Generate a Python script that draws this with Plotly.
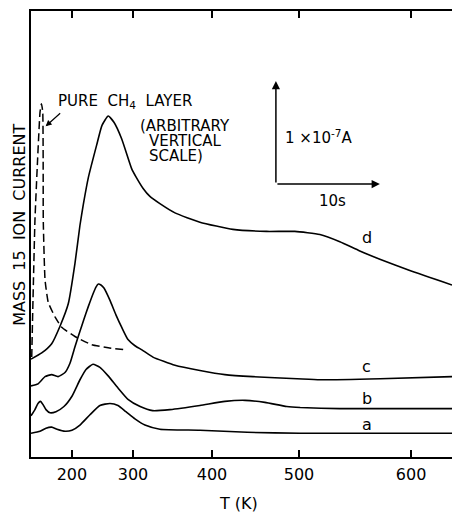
import plotly.graph_objects as go

# Time axis (s) carries the temperature labels reached during the ramp
temp_labels = ["200", "300", "400", "500", "600"]
temp_tick_times = [3.94, 9.81, 17.41, 25.78, 36.56]

# Mass 15 ion current traces, in units of 1e-7 A (stacked, arbitrary offsets)
t_a = [0, 0.87, 1.44, 1.99, 2.5, 3.27, 3.94, 4.71, 5.67, 6.63, 7.6, 8.37, 9.13, 10.0,
       10.96, 12.4, 16.25, 20.8, 25.9, 40.5]
i_a = [0.23, 0.25, 0.28, 0.29, 0.27, 0.25, 0.26, 0.31, 0.41, 0.50, 0.52, 0.50, 0.44, 0.37,
       0.31, 0.27, 0.26, 0.24, 0.23, 0.23]

t_b = [0, 0.38, 0.67, 0.91, 1.15, 1.44, 1.83, 2.4, 3.17, 3.94, 4.71, 5.29, 5.96, 6.63,
       7.4, 8.37, 9.33, 10.5, 11.7, 13.37, 16.25, 18.65, 20.6, 22.5, 24.6, 25.9, 29.7, 40.5]
i_b = [0.40, 0.46, 0.52, 0.54, 0.51, 0.46, 0.43, 0.44, 0.49, 0.59, 0.75, 0.85, 0.90, 0.87,
       0.79, 0.67, 0.56, 0.49, 0.45, 0.46, 0.50, 0.54, 0.55, 0.53, 0.49, 0.48, 0.47, 0.47]

t_c = [0, 0.67, 1.35, 1.99, 2.6, 3.27, 3.75, 4.23, 4.71, 5.1, 5.51, 5.99, 6.25, 6.47, 6.73,
       7.02, 7.6, 8.17, 8.72, 9.33, 10.0, 10.67, 11.73, 13.85, 16.25, 18.65, 21.35, 25.6,
       27.8, 33.6, 40.5]
i_c = [0.69, 0.71, 0.78, 0.80, 0.78, 0.82, 0.91, 1.07, 1.22, 1.34, 1.46, 1.59, 1.65, 1.68, 1.67,
       1.64, 1.52, 1.38, 1.26, 1.14, 1.08, 1.04, 0.97, 0.89, 0.84, 0.80, 0.78, 0.76,
       0.75, 0.76, 0.78]

t_d = [0, 1.03, 1.99, 2.79, 3.59, 4.23, 4.71, 5.03, 5.51, 6.32, 6.83, 7.43, 7.98, 8.72,
       9.68, 10.1, 10.77, 11.44, 12.4, 13.85, 16.25, 19.42, 22.66, 25.38, 27.79, 29.71,
       31.63, 33.56, 36.44, 40.5]
i_d = [0.95, 1.01, 1.10, 1.27, 1.49, 1.88, 2.25, 2.45, 2.71, 3.03, 3.22, 3.31, 3.25, 3.09,
       2.80, 2.72, 2.61, 2.53, 2.46, 2.37, 2.28, 2.21, 2.19, 2.19, 2.16, 2.09,
       2.00, 1.92, 1.81, 1.67]

# Pure CH4 layer reference trace
t_ch4 = [0.07, 0.19, 0.38, 0.63, 0.87, 1.01, 1.13, 1.17, 1.18, 1.35, 1.66, 2.31, 2.95,
         4.23, 5.84, 7.43, 9.2]
i_ch4 = [0.97, 1.52, 2.30, 2.88, 3.35, 3.43, 3.35, 2.88, 2.30, 1.72, 1.50, 1.36, 1.26,
         1.17, 1.09, 1.06, 1.04]

# Scale bar: 10 s horizontally, 1e-7 A vertically
scale_origin = (23.56, 2.65)
scale_dt = 10.0
scale_di = 1.0

FONT = "DejaVu Sans"
INK = "black"

fig = go.Figure()

for t, i in [(t_a, i_a), (t_b, i_b), (t_c, i_c), (t_d, i_d)]:
    fig.add_trace(go.Scatter(x=t, y=i, mode="lines",
                             line=dict(color=INK, width=1.6, shape="spline", smoothing=0.5),
                             showlegend=False, hoverinfo="skip"))

fig.add_trace(go.Scatter(x=t_ch4, y=i_ch4, mode="lines",
                         line=dict(color=INK, width=1.5, dash="8px,4px",
                                   shape="spline", smoothing=0.4),
                         showlegend=False, hoverinfo="skip"))

ann = []

# Curve labels
for txt, tx, iy in [("d", 32.3, 2.13), ("c", 32.3, 0.88), ("b", 32.3, 0.57), ("a", 32.3, 0.32)]:
    ann.append(dict(x=tx, y=iy, text=txt, showarrow=False,
                    font=dict(family=FONT, size=16, color=INK),
                    xanchor="center", yanchor="middle"))

# Scale bar arrows
x0, y0 = scale_origin
ann.append(dict(x=x0 + scale_dt, y=y0, ax=x0, ay=y0, axref="x", ayref="y",
                xref="x", yref="y", text="", showarrow=True,
                arrowhead=2, arrowsize=1.1, arrowwidth=1.5, arrowcolor=INK))
ann.append(dict(x=x0, y=y0 + scale_di, ax=x0, ay=y0, axref="x", ayref="y",
                xref="x", yref="y", text="", showarrow=True,
                arrowhead=2, arrowsize=1.1, arrowwidth=1.5, arrowcolor=INK))
ann.append(dict(x=x0 + 4.1, y=y0 + 0.46, text="1 ×10<sup>-7</sup>A", showarrow=False,
                font=dict(family=FONT, size=15, color=INK),
                xanchor="center", yanchor="middle"))
ann.append(dict(x=x0 + 5.4, y=y0 - 0.16, text="10s", showarrow=False,
                font=dict(family=FONT, size=15, color=INK),
                xanchor="center", yanchor="middle"))

# Pure CH4 annotation with pointer
ann.append(dict(x=9.0, y=3.45, text="PURE  CH<sub>4</sub>  LAYER", showarrow=False,
                font=dict(family=FONT, size=15, color=INK),
                xanchor="center", yanchor="middle"))
ann.append(dict(x=1.41, y=3.21, ax=2.95, ay=3.35, axref="x", ayref="y",
                xref="x", yref="y", text="", showarrow=True,
                arrowhead=2, arrowsize=1, arrowwidth=1.2, arrowcolor=INK))

# Arbitrary-scale note
ann.append(dict(x=10.3, y=3.21, text="(ARBITRARY", showarrow=False,
                font=dict(family=FONT, size=15, color=INK), xanchor="left", yanchor="middle"))
ann.append(dict(x=11.15, y=3.065, text="VERTICAL", showarrow=False,
                font=dict(family=FONT, size=15, color=INK), xanchor="left", yanchor="middle"))
ann.append(dict(x=11.15, y=2.92, text="SCALE)", showarrow=False,
                font=dict(family=FONT, size=15, color=INK), xanchor="left", yanchor="middle"))

# Axis titles
ann.append(dict(x=0.492, y=-0.105, xref="paper", yref="paper", text="T (K)", showarrow=False,
                font=dict(family=FONT, size=16, color=INK), xanchor="center", yanchor="middle"))
ann.append(dict(x=-0.029, y=0.52, xref="paper", yref="paper", text="MASS  15  ION  CURRENT",
                showarrow=False, textangle=-90,
                font=dict(family=FONT, size=16, color=INK), xanchor="center", yanchor="middle"))

fig.update_layout(
    width=452, height=512,
    margin=dict(l=31, r=0, t=11, b=55),
    paper_bgcolor="white", plot_bgcolor="white",
    annotations=ann,
    font=dict(family=FONT, size=16, color=INK),
)

fig.update_xaxes(range=[0, 40.5], showgrid=False, zeroline=False,
                 showline=True, linecolor=INK, linewidth=2, mirror="ticks",
                 ticks="inside", ticklen=7, tickwidth=1.5, tickcolor=INK,
                 tickvals=temp_tick_times, ticktext=temp_labels,
                 tickfont=dict(family=FONT, size=16, color=INK),
                 ticklabelstandoff=2)
fig.update_yaxes(range=[0, 4.33], showgrid=False, zeroline=False,
                 showline=True, linecolor=INK, linewidth=2, mirror=False,
                 ticks="", showticklabels=False)

fig.write_html("out.html")
